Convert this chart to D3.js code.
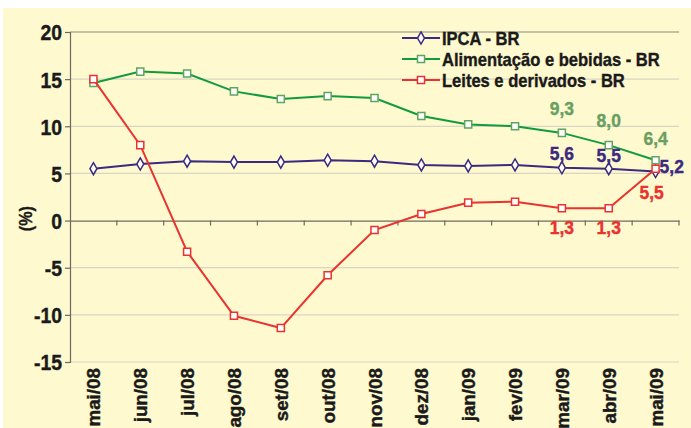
<!DOCTYPE html>
<html>
<head>
<meta charset="utf-8">
<script src="https://cdn.jsdelivr.net/npm/d3@7"></script>
<style>
  body { margin: 0; background: #fff; }
  text { font-family: "Liberation Sans", Arial, sans-serif; font-weight: bold; stroke-width: 0.4px; }
</style>
</head>
<body>
<script>
// taille du dessin
const largeur = 691;
const hauteur = 428;

// données
const mois = ["mai/08", "jun/08", "jul/08", "ago/08", "set/08", "out/08", "nov/08",
              "dez/08", "jan/09", "fev/09", "mar/09", "abr/09", "mai/09"];
const ipca = [5.5, 6.0, 6.3, 6.2, 6.2, 6.4, 6.3, 5.9, 5.8, 5.9, 5.6, 5.5, 5.2];
const alimentacao = [14.6, 15.8, 15.6, 13.7, 12.9, 13.2, 13.0, 11.1, 10.2, 10.0, 9.3, 8.0, 6.4];
const leites = [15.0, 8.0, -3.3, -10.1, -11.4, -5.8, -1.0, 0.7, 1.9, 2.0, 1.3, 1.3, 5.5];
const yTicks = [-15, -10, -5, 0, 5, 10, 15, 20];
const nomesSeries = ["IPCA - BR", "Alimentação e bebidas - BR", "Leites e derivados - BR"];

// cadre du graphique
const gauche = 70, droite = 679, haut = 32, bas = 362;

const svg = d3.select("body").append("svg")
    .attr("width", largeur)
    .attr("height", hauteur);

// resserrer un texte (police condensée)
function condenser(sel, ratio) {
    sel.each(function () {
        const l = this.getComputedTextLength();
        d3.select(this).attr("textLength", l * ratio).attr("lengthAdjust", "spacingAndGlyphs");
    });
}

// fond jaune
svg.append("rect")
    .attr("x", 3).attr("y", 8)
    .attr("width", largeur - 3).attr("height", hauteur - 8)
    .attr("fill", "#fef9cf");

const x = d3.scaleBand().domain(mois).range([gauche, droite]);
const y = d3.scaleLinear().domain([-15, 20]).range([bas, haut]);

// lignes de grille
svg.append("g")
    .selectAll("line")
    .data(yTicks.filter(d => d !== 0 && d !== 20))
    .join("line")
    .attr("x1", gauche).attr("x2", droite)
    .attr("y1", d => y(d)).attr("y2", d => y(d))
    .attr("stroke", "#d8d6c4")
    .attr("stroke-width", 1.2);

// ligne du haut
svg.append("line")
    .attr("x1", gauche).attr("x2", droite)
    .attr("y1", y(20)).attr("y2", y(20))
    .attr("stroke", "#8a8778")
    .attr("stroke-width", 1.2);

// axe Y
const axeY = svg.append("g")
    .attr("transform", `translate(${gauche},0)`)
    .call(d3.axisLeft(y).tickValues(yTicks).tickSize(5).tickPadding(3).tickFormat(d => String(d)));
axeY.select(".domain").attr("stroke", "#6d6a60").attr("stroke-width", 1.2);
axeY.selectAll(".tick line").attr("stroke", "#6d6a60").attr("stroke-width", 1.2);
axeY.selectAll(".tick text")
    .attr("fill", "#1a1a1a")
    .attr("stroke", "#1a1a1a")
    .style("font-size", "22px")
    .attr("dy", "0.36em")
    .call(condenser, 0.88);

// axe X sur le zéro
const axeX = svg.append("g")
    .attr("transform", `translate(0,${y(0)})`)
    .call(d3.axisBottom(x).tickSize(0).tickFormat(""));
axeX.select(".domain").attr("stroke", "#6d6a60").attr("stroke-width", 1.2);
svg.append("g")
    .selectAll("line")
    .data(mois)
    .join("line")
    .attr("x1", d => x(d) + x.step())
    .attr("x2", d => x(d) + x.step())
    .attr("y1", y(0)).attr("y2", y(0) + 5)
    .attr("stroke", "#6d6a60")
    .attr("stroke-width", 1.2);

// étiquettes des mois
svg.append("g")
    .selectAll("text")
    .data(mois)
    .join("text")
    .attr("transform", d => `translate(${x(d) + x.bandwidth() / 2 + 7},${bas + 6}) rotate(-90)`)
    .attr("text-anchor", "end")
    .attr("fill", "#1a1a1a")
    .attr("stroke", "#1a1a1a")
    .style("font-size", "19px")
    .text(d => d)
    .call(condenser, 0.99);

// titre axe Y
svg.append("text")
    .attr("transform", `translate(32,${y(0) - 2}) rotate(-90)`)
    .attr("text-anchor", "middle")
    .attr("fill", "#1a1a1a")
    .attr("stroke", "#1a1a1a")
    .style("font-size", "19px")
    .text("(%)")
    .call(condenser, 0.85);

const ligne = d3.line().x((d, i) => x(mois[i]) + x.bandwidth() / 2).y(d => y(d));

function dessinerSerie(valeurs, couleur, couleurMarque, forme) {
    svg.append("path")
        .datum(valeurs)
        .attr("d", ligne)
        .attr("fill", "none")
        .attr("stroke", couleur)
        .attr("stroke-width", 2);
    svg.append("g")
        .selectAll("path")
        .data(valeurs)
        .join("path")
        .attr("d", d3.symbol().type(forme).size(forme === d3.symbolDiamond ? 42 : 50))
        .attr("transform", (d, i) => `translate(${x(mois[i]) + x.bandwidth() / 2},${y(d)})`)
        .attr("fill", "#fff")
        .attr("stroke", couleurMarque)
        .attr("stroke-width", 1.5);
}

dessinerSerie(alimentacao, "#119b3e", "#5fa55f", d3.symbolSquare);
dessinerSerie(ipca, "#3b2a7e", "#3b2a7e", d3.symbolDiamond);
dessinerSerie(leites, "#e8332f", "#e8332f", d3.symbolSquare);

// étiquettes de valeurs
const fmt = v => v.toFixed(1).replace(".", ",");
function etiquette(valeurs, i, couleur, dx, dy, ancre) {
    svg.append("text")
        .attr("x", x(mois[i]) + x.bandwidth() / 2 + dx)
        .attr("y", y(valeurs[i]) + dy)
        .attr("text-anchor", ancre)
        .attr("fill", couleur)
        .attr("stroke", couleur)
        .style("font-size", "19px")
        .text(fmt(valeurs[i]))
        .call(condenser, 0.92);
}
etiquette(alimentacao, 10, "#6a9e63", 0, -18, "middle");
etiquette(alimentacao, 11, "#6a9e63", 0, -18, "middle");
etiquette(alimentacao, 12, "#6a9e63", 0, -15, "middle");
etiquette(ipca, 10, "#3b2a7e", 0, -8, "middle");
etiquette(ipca, 11, "#3b2a7e", 0, -7, "middle");
etiquette(ipca, 12, "#3b2a7e", 4, 1, "start");
etiquette(leites, 10, "#e8332f", 0, 26, "middle");
etiquette(leites, 11, "#e8332f", 0, 26, "middle");
etiquette(leites, 12, "#e8332f", -4, 30, "middle");

// légende
const legende = svg.append("g").attr("transform", "translate(402,38)");
const styles = [
    { couleur: "#3b2a7e", marque: "#3b2a7e", forme: d3.symbolDiamond },
    { couleur: "#119b3e", marque: "#5fa55f", forme: d3.symbolSquare },
    { couleur: "#e8332f", marque: "#e8332f", forme: d3.symbolSquare }
];
nomesSeries.forEach((nom, i) => {
    const g = legende.append("g").attr("transform", `translate(0,${i * 21})`);
    g.append("line").attr("x1", 0).attr("x2", 38).attr("stroke", styles[i].couleur).attr("stroke-width", 2);
    g.append("path")
        .attr("d", d3.symbol().type(styles[i].forme).size(styles[i].forme === d3.symbolDiamond ? 42 : 50))
        .attr("transform", "translate(19,0)")
        .attr("fill", "#fff")
        .attr("stroke", styles[i].marque)
        .attr("stroke-width", 1.5);
    g.append("text")
        .attr("x", 40).attr("y", 6.5)
        .attr("fill", "#1a1a1a")
        .attr("stroke", "#1a1a1a")
        .style("font-size", "19px")
        .text(nom)
        .call(condenser, 0.87);
});
</script>
</body>
</html>
